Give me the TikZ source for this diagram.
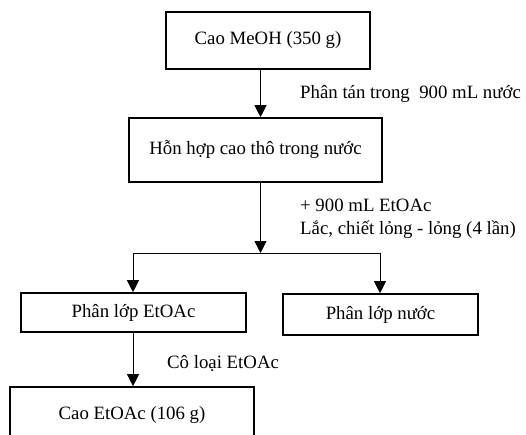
\documentclass[tikz,border=0pt]{standalone}
\usepackage{fontspec}
\setmainfont{Liberation Serif}
\usetikzlibrary{arrows.meta,positioning}

\tikzset{
  stage/.style={draw, shape=rectangle, line width=1.6pt, inner sep=0pt},
  flow/.style={-{Triangle[length=12pt,width=12pt]}, line width=0.9pt},
  note/.style={anchor=west, inner sep=0pt, align=left}
}

\begin{document}
\begin{tikzpicture}[x=1pt, y=-1pt, font=\fontsize{18.8}{23}\selectfont]
  \clip (0,0) rectangle (526,435);
  \node (meoh) [stage, minimum width=204pt, minimum height=57pt] at (268,40.5) {Cao MeOH (350 g)};
  \node (mix) [stage, minimum width=253pt, minimum height=64pt] at (255.5,150) {Hỗn hợp cao thô trong nước};
  \node (etlayer) [stage, minimum width=225pt, minimum height=39pt] at (133.5,312.5) {Phân lớp EtOAc};
  \node (waterlayer) [stage, minimum width=195pt, minimum height=41pt] at (380.5,314.5) {Phân lớp nước};
  \node (etoac) [stage, minimum width=244pt, minimum height=56pt] at (132,415) {Cao EtOAc (106 g)};
  \coordinate (spine) at (260.5,253);
  \coordinate (split1) at (133,253);
  \coordinate (split2) at (380,253);
  \node (disp) [note] at (300,94) {Phân tán trong~~900 mL nước};
  \node (extr) [note] at (300,218.5) {+ 900 mL EtOAc\\Lắc, chiết lỏng - lỏng (4 lần)};
  \node (evap) [note] at (167,364) {Cô loại EtOAc};
  \draw[flow] (meoh.south -| spine) -- (mix.north -| spine);
  \draw[flow] (mix.south -| spine) -- (spine);
  \draw[line width=0.9pt] (split1) -- (split2);
  \draw[flow] (split1) -- (etlayer.north -| split1);
  \draw[flow] (split2) -- (waterlayer.north -| split2);
  \draw[flow] (etlayer.south -| split1) -- (etoac.north -| split1);
\end{tikzpicture}
\end{document}
